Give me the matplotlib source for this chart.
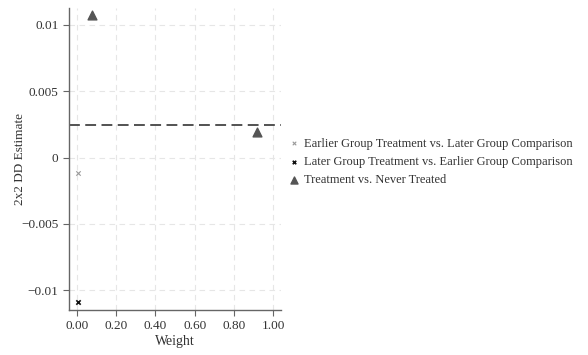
import matplotlib
matplotlib.use("Agg")
import matplotlib.pyplot as plt

plt.rcParams['font.family'] = ['Liberation Serif', 'DejaVu Serif']

# data
early_w = [0.005]
early_est = [-0.00113]
late_w = [0.005]
late_est = [-0.0109]
never_w = [0.077, 0.918]
never_est = [0.01075, 0.00196]
overall = 0.00249

xticks = [0.0, 0.2, 0.4, 0.6, 0.8, 1.0]
xticklabels = ['0.00', '0.20', '0.40', '0.60', '0.80', '1.00']
yticks = [-0.01, -0.005, 0, 0.005, 0.01]
yticklabels = ['\u22120.01', '\u22120.005', '0', '0.005', '0.01']

fig = plt.figure(figsize=(5.88, 3.55), dpi=100)
ax = fig.add_axes([69/588, 1 - 310/355, (281-69)/588, (310-8)/355])

ax.scatter(early_w, early_est, marker='x', s=10, color='#999999', linewidths=0.8,
           label='Earlier Group Treatment vs. Later Group Comparison')
ax.scatter(late_w, late_est, marker='x', s=10, color='#111111', linewidths=1.2,
           label='Later Group Treatment vs. Earlier Group Comparison')
ax.scatter(never_w, never_est, marker='^', s=40, color='#555555',
           label='Treatment vs. Never Treated')
ax.axhline(overall, color='#444444', linestyle=(0, (6, 3)), linewidth=1.3)

ax.set_xlim(-0.04, 1.04)
ax.set_ylim(-0.0115, 0.01128)
ax.set_xticks(xticks)
ax.set_xticklabels(xticklabels)
ax.set_yticks(yticks)
ax.set_yticklabels(yticklabels)
ax.grid(True, color='#e6e6e6', linestyle=(0, (5, 4)), linewidth=0.8)
ax.set_axisbelow(True)

for side in ['top', 'right']:
    ax.spines[side].set_visible(False)
for side in ['left', 'bottom']:
    ax.spines[side].set_color('#666666')
    ax.spines[side].set_linewidth(1.0)
ax.tick_params(colors='#666666', labelcolor='#333333', labelsize=9.5, length=4)

ax.set_xlabel('Weight', fontsize=10, color='#333333', labelpad=2)
ax.set_ylabel('2x2 DD Estimate', fontsize=9.5, color='#333333', labelpad=-3.5)

ax.legend(loc='center left', bbox_to_anchor=(0.978, 0.49), frameon=False,
          fontsize=9.0, handletextpad=0.3, labelspacing=0.5, handlelength=1.0,
          markerscale=0.8, labelcolor='#333333')

fig.savefig('out.png', dpi=100)
